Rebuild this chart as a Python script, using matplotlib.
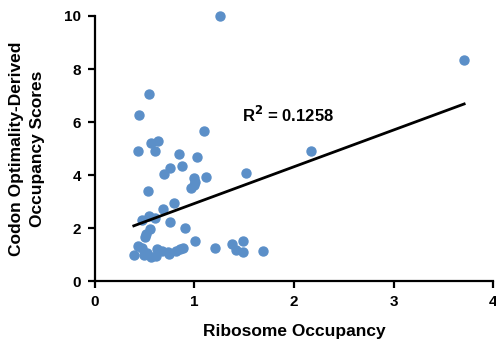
import numpy as np
import matplotlib.pyplot as plt

plt.rcParams['font.family'] = ['Liberation Sans', 'DejaVu Sans']
plt.rcParams['font.weight'] = 'bold'

# ribosome occupancy (x) vs codon optimality-derived occupancy scores (y)
ribo_occ = [0.54, 0.44, 1.10, 0.56, 0.63, 0.43, 0.60, 0.84, 1.03, 0.75,
            0.87, 0.69, 1.52, 1.12, 1.00, 1.01, 0.96, 1.00, 0.53, 0.79,
            0.68, 0.75, 0.90, 0.54, 0.47, 0.60, 0.55, 0.51, 0.50, 1.01,
            1.21, 1.38, 1.49, 1.42, 1.49, 1.69, 0.39, 0.43, 0.47, 0.49,
            0.56, 0.61, 0.62, 0.67, 0.73, 0.74, 0.81, 0.85, 0.88, 0.52,
            1.26, 3.71, 2.17]
codon_score = [7.06, 6.25, 5.66, 5.20, 5.29, 4.89, 4.89, 4.80, 4.67, 4.26,
               4.34, 4.04, 4.08, 3.94, 3.87, 3.74, 3.51, 3.61, 3.38, 2.94,
               2.73, 2.21, 2.00, 2.45, 2.30, 2.37, 1.95, 1.76, 1.65, 1.50,
               1.26, 1.41, 1.50, 1.17, 1.08, 1.12, 0.99, 1.33, 1.23, 0.99,
               0.92, 0.96, 1.21, 1.14, 1.09, 1.02, 1.14, 1.22, 1.25, 1.05,
               10.0, 8.33, 4.90]

# linear fit shown on the chart
fit_slope = 1.385
fit_intercept = 1.543
r_squared = 0.1258

fig = plt.figure(figsize=(4.96, 3.44), dpi=100)
ax = fig.add_axes([0.1915, 0.183, 0.8025, 0.7705])

ax.scatter(ribo_occ, codon_score, s=42, color='#5b8fc8', zorder=3, clip_on=False)

fx = np.array([min(ribo_occ), max(ribo_occ)])
ax.plot(fx, fit_slope * fx + fit_intercept, color='black', lw=2, zorder=4)

ax.text(1.48, 6.26, 'R$^{\\mathbf{2}}$ = %.4f' % r_squared, fontsize=12,
        fontweight='bold', va='center', ha='left')

ax.set_xlim(0, 4)
ax.set_ylim(0, 10)
ax.set_xticks([0, 1, 2, 3, 4])
ax.set_yticks([0, 2, 4, 6, 8, 10])
for s in ['top', 'right']:
    ax.spines[s].set_visible(False)
for s in ['left', 'bottom']:
    ax.spines[s].set_linewidth(1.6)
ax.tick_params(width=1.6, length=5, labelsize=11, pad=5)
for lab in ax.get_xticklabels() + ax.get_yticklabels():
    lab.set_fontweight('bold')

ax.set_xlabel('Ribosome Occupancy', fontsize=12.5, fontweight='bold', labelpad=11)
ax.set_ylabel('Codon Optimality-Derived\nOccupancy Scores', fontsize=12.5,
              fontweight='bold', labelpad=14, linespacing=1.5)

fig.savefig('out.png', dpi=100)
